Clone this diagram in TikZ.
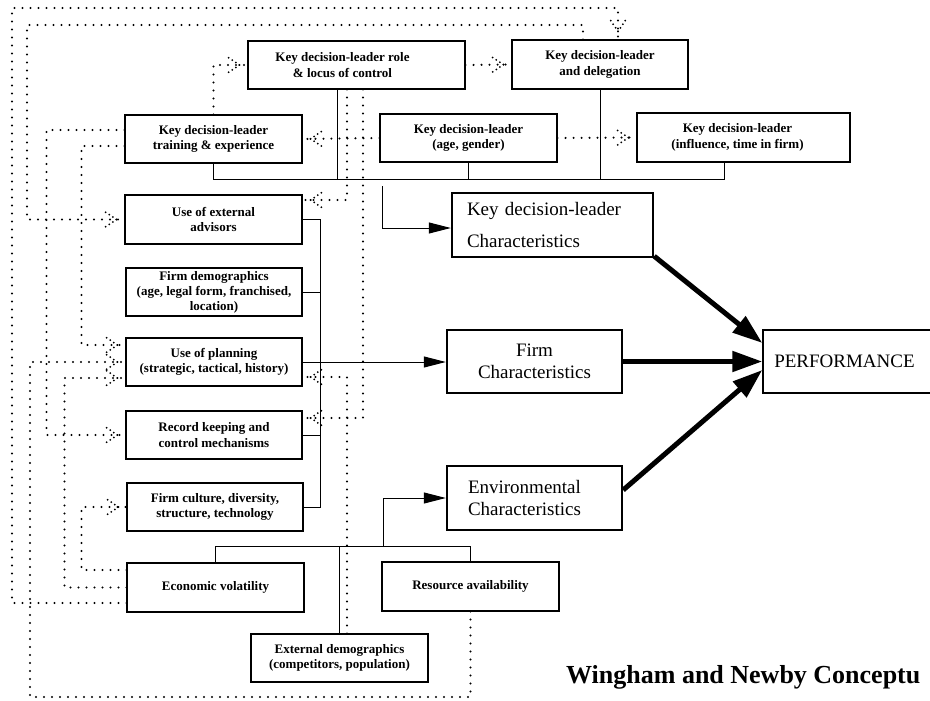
\documentclass[tikz,border=0pt]{standalone}
\usepackage{fontspec}
\setmainfont{Liberation Serif}
\usetikzlibrary{arrows.meta,decorations.markings}
\tikzset{
  box/.style={draw, line width=1.1pt, inner sep=0pt, align=center, font=\bfseries\fontsize{13}{15.5}\selectfont},
  bigbox/.style={draw, line width=2.4pt, inner sep=0pt, font=\fontsize{19}{22}\selectfont},
  conn/.style={line width=1pt},
  solidarr/.style={conn, -{Triangle[length=22pt,width=11pt]}},
  thickarr/.style={line width=5pt, -{Triangle[length=30pt,width=20pt]}},
  dots/.style={line width=2.3pt, line cap=round, dash pattern=on 0pt off 8pt},
  dotarr/.style={dots, postaction={decorate}, decoration={markings, mark=at position 1 with {
    \foreach \k in {0,1,2,3}{
      \fill ({-8pt-\k*3.6pt},{\k*2.4pt}) circle (1pt);
      \fill ({-8pt-\k*3.6pt},{-\k*2.4pt}) circle (1pt);}}}},
}
\begin{document}
\begin{tikzpicture}[x=1pt,y=-1pt]
\useasboundingbox (0,0) rectangle (930,701);
\clip (0,0) rectangle (930,701);
\fill[white] (0,0) rectangle (930,701);

% small boxes
\node[box, minimum width=217pt, minimum height=48pt] (role) at (356.5,65) {Key decision-leader role\hspace*{28pt}\\ \& locus of control\hspace*{28pt}};
\node[box, minimum width=176pt, minimum height=49pt] (deleg) at (600,64.5) {Key decision-leader\\ and delegation};
\node[box, minimum width=177pt, minimum height=48pt] (train) at (213.5,139) {Key decision-leader\\ training \& experience};
\node[box, minimum width=177pt, minimum height=48pt] (agegen) at (468.5,138) {Key decision-leader\\ (age, gender)};
\node[box, minimum width=213pt, minimum height=49pt] (infl) at (743.5,137.5) {Key decision-leader\hspace*{12pt}\\ (influence, time in firm)\hspace*{12pt}};
\node[box, minimum width=177pt, minimum height=49pt] (adv) at (213.5,219.5) {Use of external\\ advisors};
\node[box, minimum width=176pt, minimum height=48pt, font=\bfseries\fontsize{13}{15}\selectfont] (fdemo) at (214,292) {Firm demographics\\ (age, legal form, franchised,\\ location)};
\node[box, minimum width=176pt, minimum height=48pt] (plan) at (214,362) {Use of planning\\ (strategic, tactical, history)};
\node[box, minimum width=176pt, minimum height=48pt] (rec) at (214,435) {Record keeping and\\ control mechanisms};
\node[box, minimum width=176pt, minimum height=48pt] (cult) at (215,507) {Firm culture, diversity,\\ structure, technology};
\node[box, minimum width=177pt, minimum height=49pt] (econ) at (215.5,587.5) {Economic volatility};
\node[box, minimum width=177pt, minimum height=49pt] (res) at (470.5,586.5) {Resource availability};
\node[box, minimum width=177pt, minimum height=48pt] (extd) at (339.5,658) {External demographics\\ (competitors, population)};

% big boxes
\node[bigbox, minimum width=201pt, minimum height=64pt, text width=171pt, align=left, font=\fontsize{19}{32}\selectfont] (kchar) at (552.5,225) {Key decision-leader\\ Characteristics};
\node[bigbox, minimum width=175pt, minimum height=63pt, align=center] (fchar) at (534.5,361.5) {Firm\\ Characteristics};
\node[bigbox, minimum width=175pt, minimum height=64pt, text width=133pt, align=left] (env) at (534.5,498) {Environmental\\ Characteristics};
\node[draw, line width=1.4pt, inner sep=0pt, minimum width=177pt, minimum height=63pt, font=\fontsize{19}{22}\selectfont] (perf) at (851.5,361.5) {PERFORMANCE\hspace*{14pt}};

% caption
\node[anchor=base west, inner sep=0pt, font=\bfseries\fontsize{26}{30}\selectfont] (cap) at (566,683) {Wingham and Newby Conceptu};

% solid connectors: key decision-leader group
\draw[conn] (train.south) -- ++(0,16) coordinate (kb1) -| ([xshift=-19.5pt]infl.south);
\draw[conn] ([xshift=-19.5pt]role.south) -- ([xshift=-19.5pt]role.south |- kb1);
\draw[conn] (agegen.south) -- (agegen.south |- kb1);
\draw[conn] (deleg.south) -- (deleg.south |- kb1);
\coordinate (kin) at (382,186);
\draw[solidarr] (kin) |- ([yshift=-3pt]kchar.west);

% firm group
\draw[conn] (adv.east) -- ++(18,0) coordinate (fb1) |- (cult.east);
\draw[conn] (fdemo.east) -- (fdemo.east -| fb1);
\draw[conn] (rec.east) -- (rec.east -| fb1);
\draw[solidarr] (plan.east) -- (plan.east -| fchar.west);

% environment group
\draw[conn] (econ.north) -- ++(0,-16) coordinate (eb1) -| (res.north);
\draw[conn] (extd.north) -- (extd.north |- eb1);
\coordinate (ebj) at (383,547);
\draw[solidarr] (ebj) |- (env.west);

% thick arrows to performance
\draw[thickarr] ([yshift=2pt]kchar.south east) -- ([yshift=18.5pt]perf.west);
\draw[thickarr] (fchar.east) -- (fchar.east -| perf.west);
\draw[thickarr] ([yshift=8pt]env.east) -- ([yshift=-8.5pt]perf.west);

% dotted connectors
\draw[dotarr] ([yshift=-15.5pt]econ.west) -| (12,8) -| ([xshift=18pt]deleg.north);
\draw[dotarr] ([xshift=-17pt]deleg.north) |- (27,25) |- (adv.west);
\draw[dotarr] ([yshift=9pt]train.west) -- ++(-78,0) |- (rec.west);
\draw[dotarr] ([yshift=-7pt]train.west) -- ++(-43,0) |- ([yshift=17pt]plan.west);
\draw[dotarr] (res.south) |- (30,697) |- (plan.west);
\draw[dotarr] (econ.west) -- ++(-62,0) |- ([yshift=-16pt]plan.west);
\draw[dotarr] ([yshift=17.5pt]econ.west) -- ++(-45,0) |- (cult.west);
\draw[dotarr] (train.north) |- (role.west);
\draw[dotarr] (role.east) -- (deleg.west);
\draw[dotarr] (agegen.west) -- (train.east);
\draw[dotarr] (agegen.east) -- (infl.west);
\draw[dotarr] ([xshift=-9.5pt]role.south) |- ([yshift=19.5pt]adv.east);
\draw[dotarr] ([xshift=6.5pt]role.south) |- ([yshift=17pt]rec.east);
\draw[dotarr] ([xshift=7.5pt]extd.north) |- ([yshift=-15pt]plan.east);
\end{tikzpicture}
\end{document}
